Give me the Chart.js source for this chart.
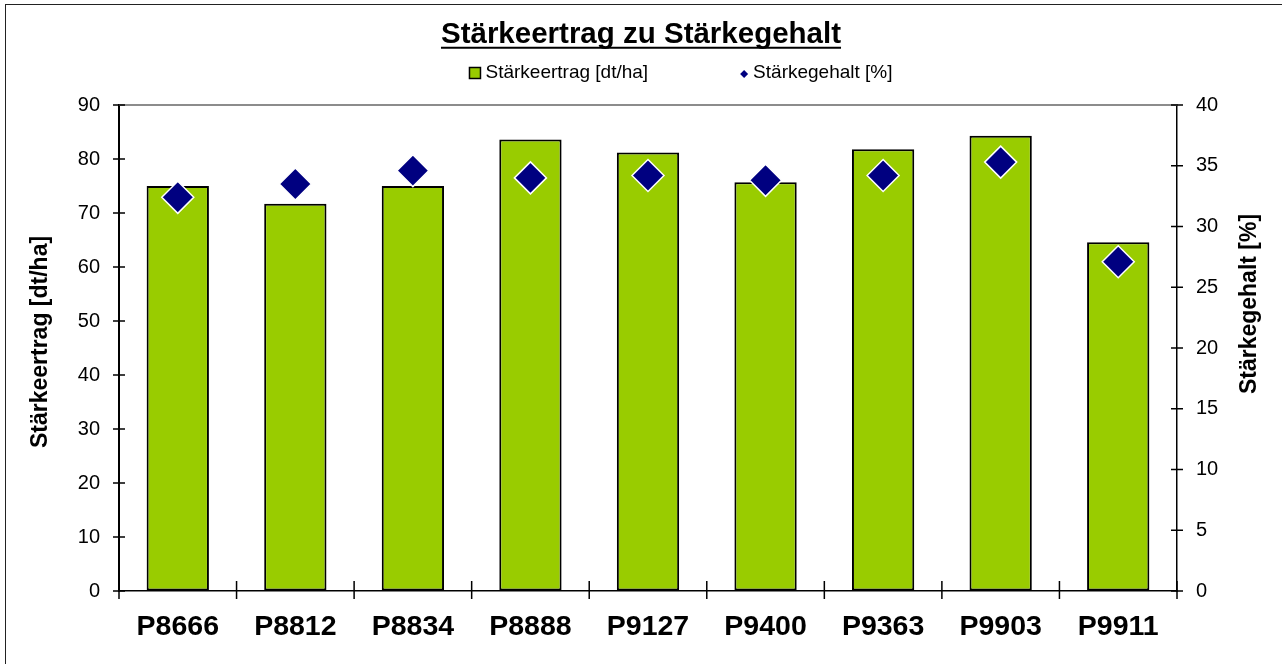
<!DOCTYPE html>
<html>
<head>
<meta charset="utf-8">
<script src="https://cdn.jsdelivr.net/npm/chart.js@4.4.1/dist/chart.umd.min.js"></script>
<style>
html, body { margin: 0; padding: 0; background: #fff; overflow: hidden; }
canvas { display: block; }
</style>
</head>
<body>
<canvas id="myChart" width="1282" height="664"></canvas>
<script>
const FONT = "'Liberation Sans', Arial, sans-serif"

let labels = ['P8666', 'P8812', 'P8834', 'P8888', 'P9127', 'P9400', 'P9363', 'P9903', 'P9911']
let ertrag = [75.0, 71.7, 75.0, 83.6, 81.2, 75.7, 81.8, 84.3, 64.6]
let gehalt = [32.4, 33.5, 34.6, 34.0, 34.2, 33.8, 34.2, 35.3, 27.1]

let ertragLabel = 'Stärkeertrag [dt/ha]'
let gehaltLabel = 'Stärkegehalt [%]'
let titleText = 'Stärkeertrag zu Stärkegehalt'

let barColor = '#99cc00'
let pointColor = '#000080'

const titleFont = { family: FONT, size: 29.5, weight: 'bold' }
const titlePad = { top: 17, bottom: 52.6 }

// draws a vertical axis title reading bottom to top
function sideTitle(c, text, x, y) {
  c.save()
  c.font = 'bold 23px ' + FONT
  c.fillStyle = '#000'
  c.textAlign = 'center'
  c.textBaseline = 'middle'
  c.translate(x, y)
  c.rotate(-Math.PI / 2)
  c.fillText(text, 0, 0)
  c.restore()
}

// frame, plot top line, crossing tick marks, underline, legend, axis titles
const decor = {
  id: 'decor',
  beforeDraw(chart) {
    const c = chart.ctx
    c.save()
    c.fillStyle = '#fff'
    c.fillRect(0, 0, chart.width, chart.height)
    c.strokeStyle = '#222'
    c.lineWidth = 1
    c.strokeRect(5.5, 4.5, chart.width + 20, chart.height + 20)
    c.restore()
  },
  beforeDatasetsDraw(chart) {
    const c = chart.ctx, a = chart.chartArea
    c.save()
    c.strokeStyle = '#8c8c8c'
    c.lineWidth = 2
    c.beginPath()
    c.moveTo(a.left, a.top)
    c.lineTo(a.right, a.top)
    c.stroke()
    c.restore()
  },
  afterDraw(chart) {
    const c = chart.ctx, a = chart.chartArea, s = chart.scales
    c.save()
    c.strokeStyle = '#000'
    c.lineWidth = 1.5
    c.beginPath()
    s.y.ticks.forEach(t => {
      const py = s.y.getPixelForValue(t.value)
      c.moveTo(a.left - 6, py); c.lineTo(a.left + 6, py)
    })
    s.y1.ticks.forEach(t => {
      const py = s.y1.getPixelForValue(t.value)
      c.moveTo(a.right - 6, py); c.lineTo(a.right + 6, py)
    })
    for (let i = 0; i <= labels.length; i++) {
      let px
      if (i === 0) px = a.left
      else if (i === labels.length) px = a.right
      else px = (s.x.getPixelForValue(i - 1) + s.x.getPixelForValue(i)) / 2
      c.moveTo(px, a.bottom - 10); c.lineTo(px, a.bottom + 8)
    }
    c.stroke()

    // underline title
    const tb = chart.titleBlock
    c.font = 'bold ' + titleFont.size + 'px ' + FONT
    const tw = c.measureText(titleText).width
    const tmid = tb.top + titlePad.top + titleFont.size * 1.2 / 2
    const cx = (tb.left + tb.right) / 2
    c.lineWidth = 2
    c.beginPath()
    c.moveTo(cx - tw / 2, tmid + 13)
    c.lineTo(cx + tw / 2, tmid + 13)
    c.stroke()

    // legend
    c.font = '19px ' + FONT
    c.textBaseline = 'middle'
    c.textAlign = 'left'
    c.fillStyle = '#000'
    const w1 = c.measureText(ertragLabel).width
    const w2 = c.measureText(gehaltLabel).width
    const total = 12 + 4 + w1 + 92 + 8 + 5 + w2
    let lx = chart.width / 2 + 40 - total / 2
    const ly = 73
    c.fillStyle = barColor
    c.fillRect(lx, ly - 5.5, 11, 11)
    c.lineWidth = 1.5
    c.strokeStyle = '#000'
    c.strokeRect(lx, ly - 5.5, 11, 11)
    lx += 16
    c.fillStyle = '#000'
    c.fillText(ertragLabel, lx, ly)
    lx += w1 + 92
    c.fillStyle = pointColor
    c.beginPath()
    c.moveTo(lx, ly + 1); c.lineTo(lx + 4, ly - 3); c.lineTo(lx + 8, ly + 1); c.lineTo(lx + 4, ly + 5)
    c.closePath()
    c.fill()
    lx += 13
    c.fillStyle = '#000'
    c.fillText(gehaltLabel, lx, ly)
    c.restore()

    const mid = (a.top + a.bottom) / 2
    sideTitle(c, ertragLabel, 41, mid - 6)
    sideTitle(c, gehaltLabel, a.right + 73, mid - 44)
  }
}

Chart.defaults.color = '#000'
Chart.defaults.font.family = FONT

let ctx = document.getElementById('myChart').getContext('2d')

let myChart = new Chart(ctx, {
  data: {
    labels: labels,
    datasets: [{
      type: 'line',
      label: gehaltLabel,
      data: gehalt,
      yAxisID: 'y1',
      showLine: false,
      pointStyle: 'rectRot',
      pointRadius: 16,
      pointHoverRadius: 16,
      backgroundColor: pointColor,
      borderColor: '#fff',
      pointBorderWidth: 1.5,
      order: 0
    }, {
      type: 'bar',
      label: ertragLabel,
      data: ertrag,
      yAxisID: 'y',
      backgroundColor: barColor,
      borderColor: '#000',
      borderWidth: 2,
      borderSkipped: false,
      barPercentage: 0.53,
      categoryPercentage: 1,
      order: 1
    }]
  },
  options: {
    responsive: false,
    animation: false,
    layout: { padding: 0 },
    plugins: {
      legend: { display: false },
      tooltip: { enabled: false },
      title: {
        display: true,
        text: titleText,
        color: '#000',
        font: titleFont,
        padding: titlePad
      }
    },
    scales: {
      x: {
        grid: { display: true, drawOnChartArea: false, drawTicks: false },
        border: { color: '#000', width: 1.5 },
        ticks: { font: { size: 28.5, weight: 'bold' }, color: '#000', padding: 19, maxRotation: 0 },
        afterFit: s => { s.height = 73 }
      },
      y: {
        position: 'left',
        min: 0,
        max: 90,
        grid: { display: true, drawOnChartArea: false, drawTicks: false },
        border: { color: '#000', width: 2 },
        ticks: { stepSize: 10, font: { size: 20 }, color: '#000', padding: 19 },
        afterFit: s => { s.width = 119 }
      },
      y1: {
        position: 'right',
        min: 0,
        max: 40,
        grid: { display: true, drawOnChartArea: false, drawTicks: false },
        border: { color: '#000', width: 1.5 },
        ticks: { stepSize: 5, font: { size: 20 }, color: '#000', padding: 19 },
        afterFit: s => { s.width = 105 }
      }
    }
  },
  plugins: [decor]
})
</script>
</body>
</html>
